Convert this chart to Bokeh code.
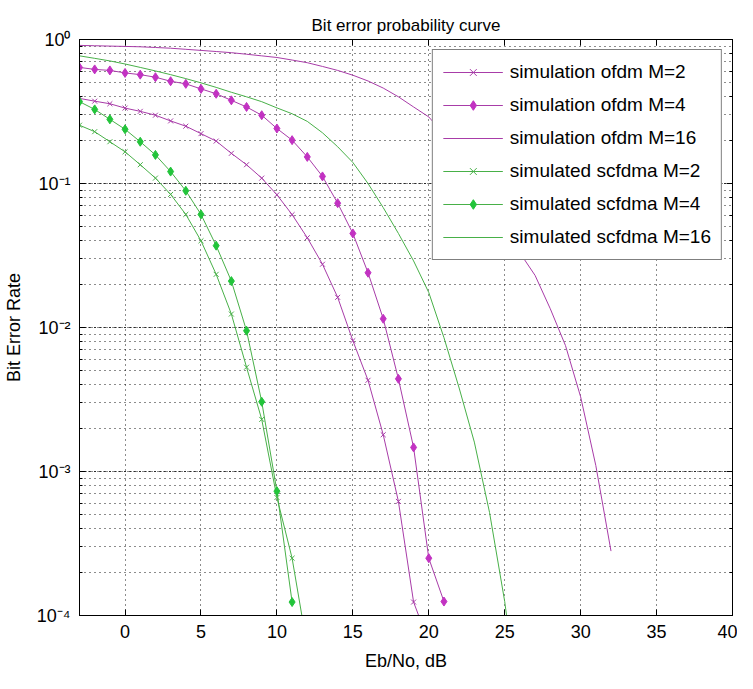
from bokeh.plotting import figure
from bokeh.models import Range1d, FixedTicker, LinearAxis, LogAxis, CustomJSTickFormatter
from bokeh.embed import file_html
from bokeh.resources import INLINE

# ---------------- data ----------------
x_ticks = [0, 5, 10, 15, 20, 25, 30, 35, 40]

ofdm_m2_x = list(range(-3, 21))
ofdm_m2_y = [0.39, 0.373, 0.358, 0.334, 0.317, 0.298, 0.272, 0.25, 0.222, 0.197,
             0.162, 0.135, 0.109, 0.0835, 0.0608, 0.042, 0.0275, 0.0162, 0.0081,
             0.0043, 0.0018, 6.2e-4, 1.24e-4, 6.5e-5]

ofdm_m4_x = list(range(-3, 22))
ofdm_m4_y = [0.64, 0.62, 0.61, 0.586, 0.57, 0.547, 0.513, 0.492, 0.454, 0.42,
             0.378, 0.34, 0.298, 0.241, 0.2, 0.153, 0.112, 0.073, 0.045, 0.024,
             0.0115, 0.0044, 0.00147, 2.5e-4, 1.25e-4]

ofdm_m16_x = list(range(-3, 33))
ofdm_m16_y = [0.91, 0.905, 0.90, 0.895, 0.89, 0.88, 0.87, 0.855, 0.84, 0.825,
              0.81, 0.79, 0.77, 0.75, 0.72, 0.69, 0.65, 0.61, 0.565, 0.515,
              0.46, 0.40, 0.34, 0.29, 0.22, 0.16, 0.11, 0.072, 0.047, 0.033,
              0.023, 0.0135, 0.0075, 0.0033, 0.0011, 2.8e-4]

sc_m2_x = list(range(-3, 13))
sc_m2_y = [0.254, 0.229, 0.195, 0.166, 0.135, 0.109, 0.084, 0.061, 0.04, 0.0234,
           0.0124, 0.0053, 0.0023, 6.6e-4, 2.5e-4, 6e-5]

sc_m4_x = list(range(-3, 12))
sc_m4_y = [0.37, 0.327, 0.279, 0.238, 0.195, 0.158, 0.121, 0.089, 0.061, 0.037,
           0.021, 0.0095, 0.00305, 7.3e-4, 1.24e-4]

sc_m16_x = list(range(-3, 27))
sc_m16_y = [0.77, 0.74, 0.71, 0.676, 0.64, 0.605, 0.57, 0.535, 0.50, 0.465,
            0.43, 0.40, 0.37, 0.335, 0.305, 0.27, 0.225, 0.18, 0.14, 0.10,
            0.068, 0.045, 0.029, 0.0175, 0.0085, 0.0038, 0.0016, 5.2e-4,
            1.25e-4, 2e-5]

# ---------------- styling ----------------
FONT = "Liberation Sans"
FS = "18px"
MAG_LINE = "#a83ca8"
MAG_MARK = "#c232c2"
GRN_LINE = "#48b048"
GRN_MARK = "#22c43a"

p = figure(width=737, height=673,
           x_range=Range1d(-3, 40), y_range=Range1d(1e-4, 1),
           y_axis_type="log", output_backend="svg", toolbar_location=None,
           title="Bit error probability curve",
           min_border_left=74, min_border_right=5,
           min_border_top=39, min_border_bottom=54)

p.background_fill_color = "white"
p.border_fill_color = "white"
p.outline_line_color = "black"
p.outline_line_width = 1

p.title.align = "center"
p.title.text_font = FONT
p.title.text_font_size = "17px"
p.title.text_font_style = "normal"
p.title.text_color = "black"

# series
p.line(ofdm_m2_x, ofdm_m2_y, color=MAG_LINE, line_width=1, legend_label="simulation ofdm M=2")
p.scatter(ofdm_m2_x, ofdm_m2_y, marker="x", size=7, line_color=MAG_LINE, line_width=1,
          legend_label="simulation ofdm M=2")

p.line(ofdm_m4_x, ofdm_m4_y, color=MAG_LINE, line_width=1, legend_label="simulation ofdm M=4")
p.scatter(ofdm_m4_x, ofdm_m4_y, marker="diamond", size=9, fill_color=MAG_MARK,
          line_color=MAG_MARK, legend_label="simulation ofdm M=4")

p.line(ofdm_m16_x, ofdm_m16_y, color=MAG_LINE, line_width=1, legend_label="simulation ofdm M=16")

p.line(sc_m2_x, sc_m2_y, color=GRN_LINE, line_width=1, legend_label="simulated scfdma M=2")
p.scatter(sc_m2_x, sc_m2_y, marker="x", size=7, line_color=GRN_LINE, line_width=1,
          legend_label="simulated scfdma M=2")

p.line(sc_m4_x, sc_m4_y, color=GRN_LINE, line_width=1, legend_label="simulated scfdma M=4")
p.scatter(sc_m4_x, sc_m4_y, marker="diamond", size=9, fill_color=GRN_MARK,
          line_color=GRN_MARK, legend_label="simulated scfdma M=4")

p.line(sc_m16_x, sc_m16_y, color=GRN_LINE, line_width=1, legend_label="simulated scfdma M=16")

# axes
sup_code = """
const sup = {'-':'\u207b','0':'\u2070','1':'\u00b9','2':'\u00b2','3':'\u00b3','4':'\u2074',
             '5':'\u2075','6':'\u2076','7':'\u2077','8':'\u2078','9':'\u2079'};
const e = Math.round(Math.log10(tick));
return '10' + String(e).split('').map(c => sup[c]).join('');
"""

xa = p.xaxis[0]
xa.ticker = FixedTicker(ticks=x_ticks)
xa.axis_label = "Eb/No, dB"
ya = p.yaxis[0]
ya.axis_label = "Bit Error Rate"
ya.formatter = CustomJSTickFormatter(code=sup_code)

for ax in (xa, ya):
    ax.axis_label_text_font = FONT
    ax.axis_label_text_font_size = FS
    ax.axis_label_text_font_style = "normal"
    ax.axis_label_text_color = "black"
    ax.major_label_text_font = FONT
    ax.major_label_text_font_size = FS
    ax.major_label_text_color = "black"
    ax.major_tick_in = 6
    ax.major_tick_out = 0
    ax.minor_tick_in = 3
    ax.minor_tick_out = 0
    ax.axis_line_color = "black"
    ax.major_tick_line_color = "black"
    ax.minor_tick_line_color = "black"
    ax.major_label_standoff = 9
    ax.axis_label_standoff = 10
xa.minor_tick_line_color = None

top = LinearAxis(ticker=FixedTicker(ticks=x_ticks), major_label_text_font_size="1px",
                 major_label_text_color=None,
                 major_tick_in=6, major_tick_out=0, minor_tick_line_color=None,
                 major_label_standoff=0, axis_line_color="black")
p.add_layout(top, "above")
right = LogAxis(formatter=CustomJSTickFormatter(code=sup_code),
                major_label_text_font_size="1px", major_label_text_color=None,
                major_tick_in=6, major_tick_out=0,
                minor_tick_in=3, minor_tick_out=0, major_label_standoff=0,
                axis_line_color="black")
p.add_layout(right, "right")

# grid
p.xgrid.grid_line_color = "black"
p.xgrid.grid_line_dash = "1 4"
p.xgrid.grid_line_alpha = 0.9
p.ygrid.grid_line_color = "black"
p.ygrid.grid_line_dash = "1 2"
p.ygrid.grid_line_alpha = 0.9
p.ygrid.minor_grid_line_color = "black"
p.ygrid.minor_grid_line_dash = "1 4"
p.ygrid.minor_grid_line_alpha = 0.9

# legend
lg = p.legend[0]
lg.location = "top_right"
lg.margin = 10
lg.padding = 10
lg.spacing = 9
lg.glyph_width = 60
lg.glyph_height = 24
lg.label_height = 24
lg.label_width = 200
lg.label_standoff = 7
lg.label_text_font = FONT
lg.label_text_font_size = "19px"
lg.label_text_color = "black"
lg.border_line_color = "black"
lg.border_line_width = 1
lg.background_fill_color = "white"
lg.background_fill_alpha = 1.0

open("out.html", "w").write(file_html(p, INLINE))
